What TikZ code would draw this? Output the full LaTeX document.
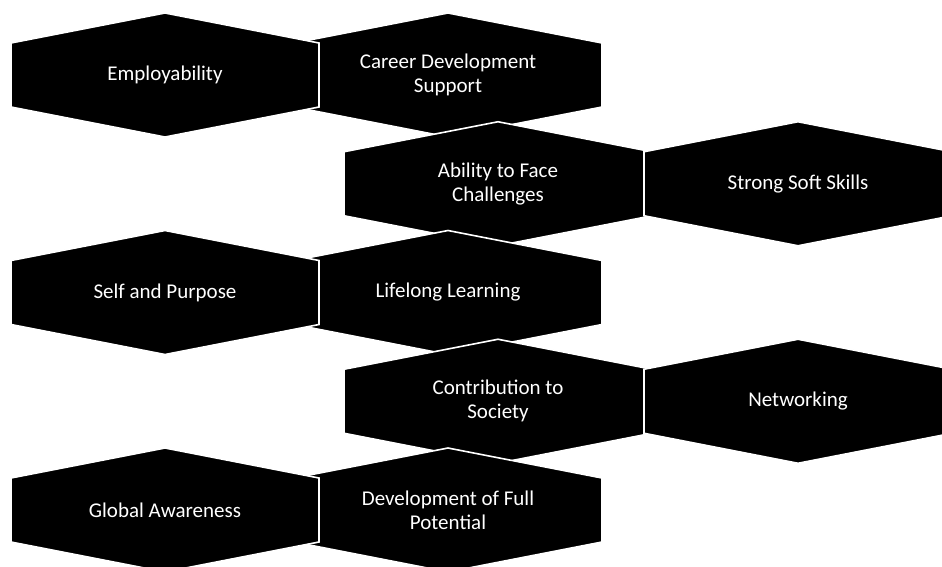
\documentclass[tikz,border=0pt]{standalone}
\usepackage{fontspec}
\setmainfont{Carlito}
\begin{document}
\begin{tikzpicture}[x=1pt,y=-1pt,
  hexa/.pic={\filldraw[fill=black,draw=white,line width=1.6pt,line join=miter]
     (-154,-32)--(0,-62)--(154,-32)--(154,32)--(0,62)--(-154,32)--cycle;},
  lbl/.style={text=white,align=center,font=\fontsize{21}{24}\selectfont,inner sep=0pt}]
\useasboundingbox (0,0) rectangle (942,566);
\clip (0,0) rectangle (942,566);
% row 1
\pic at (448,75) {hexa};
\pic at (165,75) {hexa};
% row 2
\pic at (498,183.75) {hexa};
\pic at (798,183.75) {hexa};
% row 3
\pic at (448,292.5) {hexa};
\pic at (165,292.5) {hexa};
% row 4
\pic at (498,401.25) {hexa};
\pic at (798,401.25) {hexa};
% row 5
\pic at (448,510) {hexa};
\pic at (165,510) {hexa};
% labels
\node[lbl] (emp) at (165,75) {Employability};
\node[lbl] (cds) at (448,75) {Career Development\\Support};
\node[lbl] (afc) at (498,183.75) {Ability to Face\\Challenges};
\node[lbl] (sss) at (798,183.75) {Strong Soft Skills};
\node[lbl] (sap) at (165,292.5) {Self and Purpose};
\node[lbl] (lll) at (448,292.5) {Lifelong Learning};
\node[lbl] (cts) at (498,401.25) {Contribution to\\Society};
\node[lbl] (net) at (798,401.25) {Networking};
\node[lbl] (gla) at (165,510) {Global Awareness};
\node[lbl] (dfp) at (448,510) {Development of Full\\Potential};
\end{tikzpicture}
\end{document}
